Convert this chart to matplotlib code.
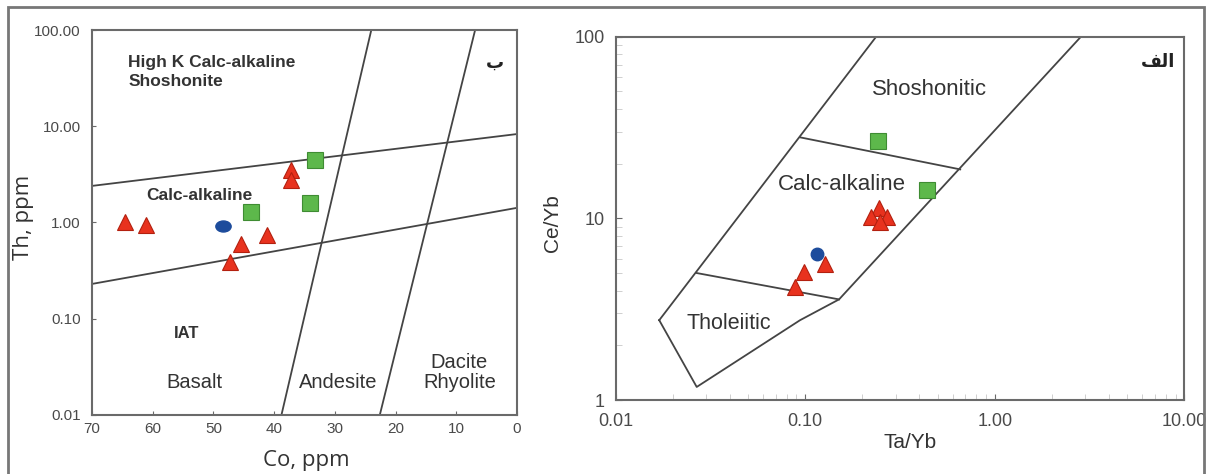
import numpy as np
import matplotlib.pyplot as plt
from matplotlib.path import Path
from matplotlib.transforms import Affine2D
from matplotlib.patches import Rectangle
from matplotlib.ticker import FixedLocator, FixedFormatter, NullLocator

plt.rcParams['font.family'] = ['Liberation Sans', 'DejaVu Sans']

# ---- left diagram (Th vs Co) ----
co_tri = [64.5, 61.1, 45.5, 47.3, 41.2, 37.3, 37.3]
th_tri = [1.0, 0.95, 0.60, 0.39, 0.74, 3.5, 2.75]
co_sq = [43.8, 33.2, 34.1]
th_sq = [1.29, 4.46, 1.58]
co_ci = [48.5]
th_ci = [0.92]

# field boundaries
upper_co = [70, 0]
upper_th = [2.4, 8.3]
lower_co = [70, 0]
lower_th = [0.23, 1.42]
and_co = [38.8, 24.0]
and_th = [0.01, 100]
dac_co = [22.6, 6.9]
dac_th = [0.01, 100]

co_ticks = [70, 60, 50, 40, 30, 20, 10, 0]
th_ticks = [0.01, 0.1, 1, 10, 100]
th_labels = ['0.01', '0.10', '1.00', '10.00', '100.00']

# ---- right diagram (Ce/Yb vs Ta/Yb) ----
tay_tri = [0.245, 0.222, 0.270, 0.248, 0.128, 0.0986, 0.0883]
cey_tri = [11.4, 10.2, 10.2, 9.55, 5.61, 5.08, 4.2]
tay_sq = [0.243, 0.438]
cey_sq = [26.7, 14.3]
tay_ci = [0.116]
cey_ci = [6.37]

field_x = [0.017, 0.0268, 0.094, 0.151, 2.85, 0.237, 0.017]
field_y = [2.75, 1.18, 2.75, 3.58, 100, 100, 2.75]
lowdiv_x = [0.0268, 0.151]
lowdiv_y = [5.0, 3.58]
updiv_x = [0.0944, 0.658]
updiv_y = [27.9, 18.6]

tay_ticks = [0.01, 0.1, 1, 10]
tay_labels = ['0.01', '0.10', '1.00', '10.00']
cey_ticks = [1, 10, 100]
cey_labels = ['1', '10', '100']

red = '#e8321e'
red_e = '#b3200f'
green = '#5db84b'
green_e = '#3f8c33'
blue = '#1d4c9c'
line_c = '#444444'
spine_c = '#6a6a6a'
tick_c = '#4a4a4a'

fig = plt.figure(figsize=(12.06, 4.74), dpi=100)

# outer frame
fig.patches.append(Rectangle((8/1206, -0.05), 1196/1206, 1.05 - 7/474,
                             transform=fig.transFigure, fill=False,
                             edgecolor='#777777', linewidth=2))

ax1 = fig.add_axes([0.0763, 0.1245, 0.3524, 0.8122])
ax2 = fig.add_axes([0.5104, 0.1561, 0.4716, 0.7665])

# left panel
ax1.set_yscale('log')
ax1.set_xlim(70, 0)
ax1.set_ylim(0.01, 100)
for xs, ys in [(upper_co, upper_th), (lower_co, lower_th), (and_co, and_th), (dac_co, dac_th)]:
    ax1.plot(xs, ys, color=line_c, lw=1.3, clip_on=True)

ell = Path.unit_circle().transformed(Affine2D().scale(1, 0.72))
ax1.plot(co_tri, th_tri, '^', ms=12, mfc=red, mec=red_e, mew=0.8, ls='none')
ax1.plot(co_sq, th_sq, 's', ms=11, mfc=green, mec=green_e, mew=0.8, ls='none')
ax1.plot(co_ci, th_ci, marker=ell, ms=11, mfc=blue, mec=blue, ls='none')

ax1.xaxis.set_major_locator(FixedLocator(co_ticks))
ax1.yaxis.set_major_locator(FixedLocator(th_ticks))
ax1.yaxis.set_major_formatter(FixedFormatter(th_labels))
ax1.yaxis.set_minor_locator(NullLocator())
ax1.tick_params(axis='both', direction='in', length=3, color=spine_c,
                labelcolor=tick_c, labelsize=11)
ax1.tick_params(axis='y', pad=8)
ax1.tick_params(axis='x', pad=5)

ax1.set_ylabel('Th, ppm', fontsize=16, color='#333333', family='Open Sans', va='center')
ax1.set_xlabel('Co, ppm', fontsize=16, color='#333333', family='Open Sans', va='center')
ax1.yaxis.set_label_coords(-0.162, 0.514)
ax1.xaxis.set_label_coords(0.505, -0.117)

t_kw = dict(color='#333333')
ax1.text(64.0, 55, 'High K Calc-alkaline\nShoshonite', fontsize=12.5, fontweight='bold',
         va='top', ha='left', linespacing=1.35, **t_kw)
ax1.text(52.3, 1.93, 'Calc-alkaline', fontsize=12.5, fontweight='bold', ha='center', va='center', **t_kw)
ax1.text(54.5, 0.071, 'IAT', fontsize=12, fontweight='bold', ha='center', va='center', **t_kw)
ax1.text(53.1, 0.022, 'Basalt', fontsize=14.5, ha='center', va='center', **t_kw)
ax1.text(29.5, 0.022, 'Andesite', fontsize=14.5, ha='center', va='center', **t_kw)
ax1.text(9.5, 0.0275, 'Dacite\nRhyolite', fontsize=14.5, ha='center', va='center', linespacing=1.1, **t_kw)
ax1.text(3.6, 46, '\u0628', fontsize=13, fontweight='bold', family='DejaVu Sans',
         ha='center', va='center', color='#222222')

# right panel
ax2.set_xscale('log')
ax2.set_yscale('log')
ax2.set_xlim(0.01, 10)
ax2.set_ylim(1, 100)
ax2.plot(field_x, field_y, color=line_c, lw=1.3)
ax2.plot(lowdiv_x, lowdiv_y, color=line_c, lw=1.3)
ax2.plot(updiv_x, updiv_y, color=line_c, lw=1.3)

ax2.plot(tay_sq, cey_sq, 's', ms=11, mfc=green, mec=green_e, mew=0.8, ls='none')
ax2.plot(tay_tri, cey_tri, '^', ms=12, mfc=red, mec=red_e, mew=0.8, ls='none')
ax2.plot(tay_ci, cey_ci, 'o', ms=9, mfc=blue, mec=blue, ls='none', zorder=1.9)

ax2.xaxis.set_major_locator(FixedLocator(tay_ticks))
ax2.xaxis.set_major_formatter(FixedFormatter(tay_labels))
ax2.yaxis.set_major_locator(FixedLocator(cey_ticks))
ax2.yaxis.set_major_formatter(FixedFormatter(cey_labels))
ax2.tick_params(axis='both', which='major', direction='in', length=4, color=spine_c,
                labelcolor=tick_c, labelsize=13)
ax2.tick_params(axis='both', which='minor', direction='in', length=4, color='#c8c8c8')
ax2.tick_params(axis='y', which='major', pad=8)
ax2.tick_params(axis='x', which='major', pad=9)

ax2.set_ylabel('Ce/Yb', fontsize=15, color='#333333', va='center')
ax2.set_xlabel('Ta/Yb', fontsize=15, color='#333333', va='center')
ax2.yaxis.set_label_coords(-0.110, 0.487)
ax2.xaxis.set_label_coords(0.517, -0.118)

ax2.text(0.451, 50.9, 'Shoshonitic', fontsize=16, ha='center', va='center', **t_kw)
ax2.text(0.157, 15.3, 'Calc-alkaline', fontsize=16, ha='center', va='center', **t_kw)
ax2.text(0.0398, 2.65, 'Tholeiitic', fontsize=15.5, ha='center', va='center', **t_kw)
# "الف" written in shaped presentation forms so it reads right to left
ax2.text(7.3, 72.8, '\ufed2\ufedf\ufe8d', fontsize=13, fontweight='bold', family='DejaVu Sans',
         ha='center', va='center', color='#222222')

for ax in (ax1, ax2):
    for s in ax.spines.values():
        s.set_color(spine_c)
        s.set_linewidth(1.5)

fig.savefig('out.png', dpi=100)
